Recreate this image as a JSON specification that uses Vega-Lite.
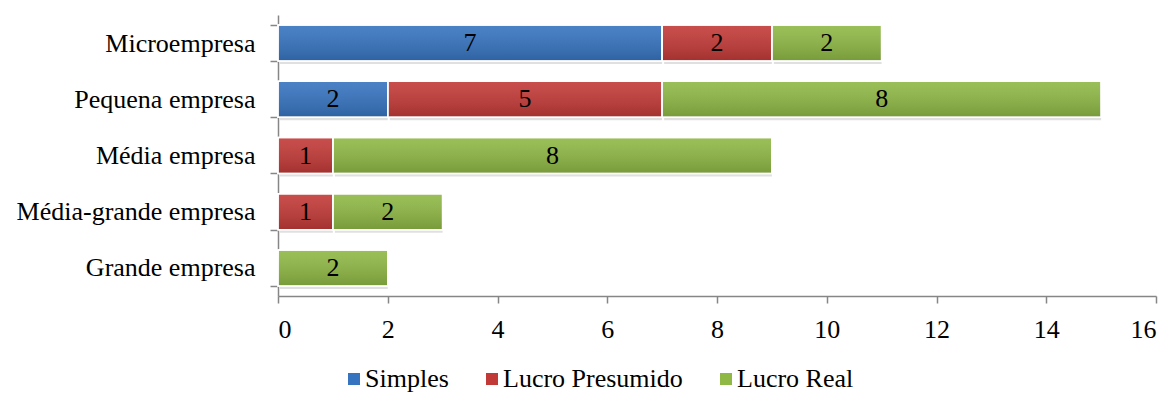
{
  "$schema": "https://vega.github.io/schema/vega-lite/v6.json",
  "width": 878,
  "height": 281,
  "autosize": "none",
  "padding": {"left": 278, "top": 15, "right": 17, "bottom": 98},
  "background": "white",
  "config": {
    "font": "Liberation Serif",
    "view": {"stroke": null},
    "legend": {"labelFont": "Liberation Serif", "labelFontSize": 26, "labelColor": "#000"},
    "axis": {"labelFont": "Liberation Serif", "labelFontSize": 26, "labelColor": "#000"},
    "text": {"font": "Liberation Serif"}
  },
  "data": {
    "values": [
      {"porte": "Microempresa", "regime": "Simples", "qtd": 7},
      {"porte": "Microempresa", "regime": "Lucro Presumido", "qtd": 2},
      {"porte": "Microempresa", "regime": "Lucro Real", "qtd": 2},
      {"porte": "Pequena empresa", "regime": "Simples", "qtd": 2},
      {"porte": "Pequena empresa", "regime": "Lucro Presumido", "qtd": 5},
      {"porte": "Pequena empresa", "regime": "Lucro Real", "qtd": 8},
      {"porte": "Média empresa", "regime": "Lucro Presumido", "qtd": 1},
      {"porte": "Média empresa", "regime": "Lucro Real", "qtd": 8},
      {"porte": "Média-grande empresa", "regime": "Lucro Presumido", "qtd": 1},
      {"porte": "Média-grande empresa", "regime": "Lucro Real", "qtd": 2},
      {"porte": "Grande empresa", "regime": "Lucro Real", "qtd": 2}
    ]
  },
  "transform": [
    {"calculate": "indexof(['Simples','Lucro Presumido','Lucro Real'], datum.regime)", "as": "ordem"},
    {"stack": "qtd", "groupby": ["porte"], "sort": [{"field": "ordem", "order": "ascending"}], "as": ["ini", "fim"]},
    {"calculate": "(datum.ini + datum.fim) / 2", "as": "meio"}
  ],
  "encoding": {
    "y": {
      "field": "porte",
      "type": "nominal",
      "sort": ["Microempresa", "Pequena empresa", "Média empresa", "Média-grande empresa", "Grande empresa"],
      "scale": {"paddingInner": 0.36, "paddingOuter": 0.18},
      "axis": {
        "title": null,
        "domainColor": "#868686",
        "domainWidth": 1.5,
        "tickColor": "#868686",
        "tickWidth": 1.5,
        "tickSize": 8,
        "tickBand": "extent",
        "labelFontSize": 26,
        "labelColor": "#000",
        "labelPadding": 15,
        "labelLimit": 320,
        "labelFont": "Liberation Serif"
      }
    }
  },
  "layer": [
    {
      "mark": {"type": "bar", "fill": "#000", "opacity": 0.12, "xOffset": 2, "yOffset": 3},
      "encoding": {
        "x": {"field": "ini", "type": "quantitative"},
        "x2": {"field": "fim"}
      }
    },
    {
      "mark": {"type": "bar", "stroke": "white", "strokeWidth": 1.5},
      "encoding": {
        "x": {
          "field": "ini",
          "type": "quantitative",
          "scale": {"domain": [0, 16], "nice": false},
          "axis": {
            "title": null,
            "values": [0, 2, 4, 6, 8, 10, 12, 14, 16],
            "grid": false,
            "domainColor": "#868686",
            "domainWidth": 1.5,
            "tickColor": "#868686",
            "tickWidth": 1.5,
            "tickSize": 7,
            "labelFontSize": 26,
            "labelColor": "#000",
            "labelPadding": 13,
            "labelFont": "Liberation Serif"
          }
        },
        "x2": {"field": "fim"},
        "color": {
          "field": "regime",
          "type": "nominal",
          "scale": {
            "domain": ["Simples", "Lucro Presumido", "Lucro Real"],
            "range": ["#3674c0", "#c23a37", "#8fb845"]
          },
          "legend": {
            "title": null,
            "orient": "none",
            "direction": "horizontal",
            "legendX": 63,
            "legendY": 351,
            "symbolType": "square",
            "symbolSize": 144,
            "symbolStrokeWidth": 0,
            "labelFontSize": 26,
            "labelColor": "#000",
            "labelFont": "Liberation Serif",
            "labelLimit": 400,
            "labelOffset": -2,
            "columnPadding": 30
          }
        }
      }
    },
    {
      "mark": {
        "type": "bar",
        "fill": {
          "gradient": "linear",
          "x1": 0, "y1": 0, "x2": 0, "y2": 1,
          "stops": [
            {"offset": 0, "color": "rgba(255,255,255,0.10)"},
            {"offset": 1, "color": "rgba(0,0,0,0.16)"}
          ]
        },
        "stroke": "white",
        "strokeWidth": 1.5
      },
      "encoding": {
        "x": {"field": "ini", "type": "quantitative"},
        "x2": {"field": "fim"}
      }
    },
    {
      "mark": {"type": "text", "fontSize": 26, "color": "#000", "font": "Liberation Serif", "baseline": "middle", "align": "center"},
      "encoding": {
        "x": {"field": "meio", "type": "quantitative"},
        "text": {"field": "qtd", "type": "quantitative"}
      }
    }
  ]
}
